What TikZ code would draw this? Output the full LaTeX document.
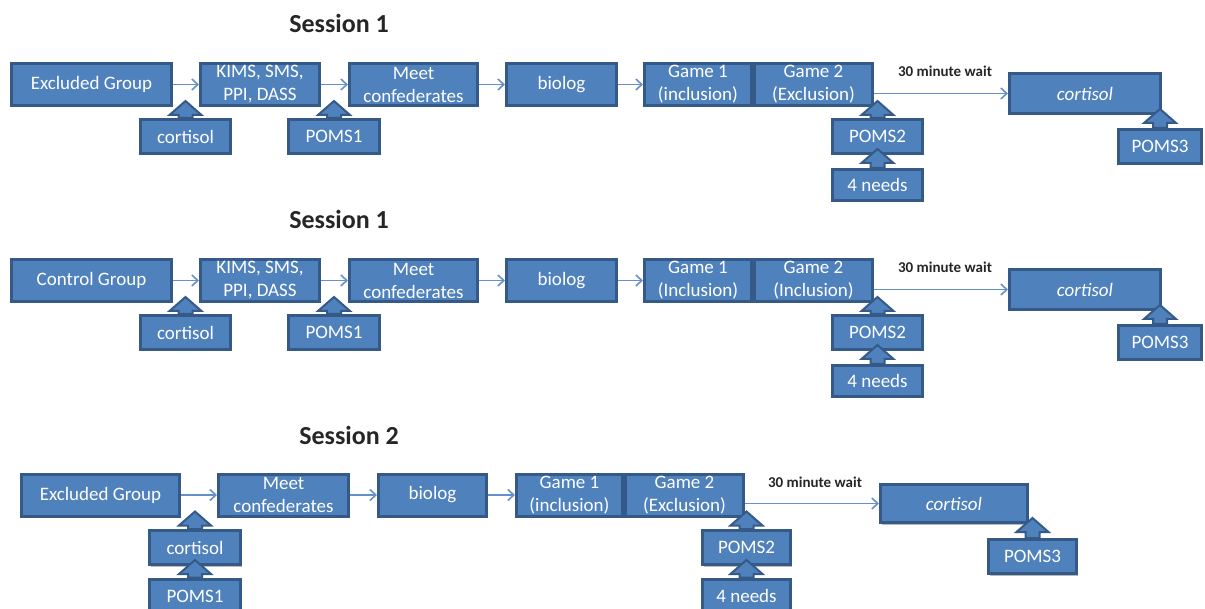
\documentclass[tikz,border=0pt]{standalone}
\usepackage{fontspec}
\setmainfont{Carlito}
\usetikzlibrary{arrows.meta,calc,shadows}

\definecolor{boxblue}{HTML}{4F81BD}
\definecolor{boxedge}{HTML}{355A88}
\definecolor{linkblue}{HTML}{6490CB}

\tikzset{
  stage/.style={draw=boxedge, line width=3pt, fill=boxblue, text=white,
    align=center, inner sep=0pt, minimum height=42pt,
    font=\fontsize{19}{23}\selectfont,
    drop shadow={shadow xshift=1.5pt, shadow yshift=-2pt, fill=black!45, opacity=.6}},
  measure/.style={stage, minimum height=34pt},
  link/.style={draw=linkblue, line width=1.6pt, -{Straight Barb[length=6pt,width=11pt]}},
  blockarr/.style={fill=boxblue, draw=boxedge, line width=2pt, line join=miter},
  session/.style={font=\fontsize{26}{30}\selectfont\bfseries, text=black!85},
  waitlbl/.style={font=\fontsize{15}{18}\selectfont\bfseries, text=black!85},
}

% fat up-arrow from a measure box to the step above it
\newcommand{\blockup}[2]{%
  \draw[blockarr] let \p1=(#1.north), \p2=(#2) in
    (\x1-7pt,\y1) -- (\x1-7pt,\y2-8pt) -- (\x1-16pt,\y2-8pt) -- (\x1,\y2+6pt)
    -- (\x1+16pt,\y2-8pt) -- (\x1+7pt,\y2-8pt) -- (\x1+7pt,\y1) -- cycle;}

\begin{document}
\begin{tikzpicture}[x=1pt,y=-1pt]
\useasboundingbox (0,0) rectangle (1205,609);

% session 1, both groups
\foreach \r/\dy/\grp/\gone/\gtwo in {1/0/Excluded Group/inclusion/Exclusion,
                                      2/196/Control Group/Inclusion/Inclusion}{
  \node[session] (ses\r) at (339,{23+\dy}) {Session 1};
  \node[stage, minimum width=160pt] (grp\r) at (91.5,{84.5+\dy}) {\grp};
  \node[stage, minimum width=119pt] (kims\r) at (260,{84.5+\dy}) {KIMS, SMS,\\PPI, DASS};
  \node[stage, minimum width=128pt] (meet\r) at (413.5,{84.5+\dy}) {Meet\\confederates};
  \node[stage, minimum width=110pt] (bio\r) at (561.5,{84.5+\dy}) {biolog};
  \node[stage, minimum width=107pt] (gone\r) at (698,{84.5+\dy}) {Game 1\\(\gone)};
  \node[stage, minimum width=118pt] (gtwo\r) at (813.5,{84.5+\dy}) {Game 2\\(\gtwo)};
  \node[stage, minimum width=151pt, minimum height=40pt] (cort\r) at (1085,{93.5+\dy}) {\itshape cortisol};
  \node[measure, minimum width=90pt] (cpre\r) at (185.5,{136.5+\dy}) {cortisol};
  \node[measure, minimum width=91pt] (pa\r) at (334,{136.5+\dy}) {POMS1};
  \node[measure, minimum width=90pt] (pb\r) at (877.5,{136.5+\dy}) {POMS2};
  \node[measure, minimum width=90pt, minimum height=31pt] (need\r) at (877.5,{185+\dy}) {4 needs};
  \node[measure, minimum width=83pt] (pc\r) at (1160,{146.5+\dy}) {POMS3};
  \node[waitlbl] (wait\r) at (945,{71.5+\dy}) {30 minute wait};

  \draw[link] (grp\r) -- (kims\r);
  \draw[link] (kims\r) -- (meet\r);
  \draw[link] (meet\r) -- (bio\r);
  \draw[link] (bio\r) -- (gone\r);
  \draw[link] (gtwo\r.east |- cort\r.west) -- (cort\r.west);

  \blockup{cpre\r}{kims\r.south}
  \blockup{pa\r}{meet\r.south}
  \blockup{pb\r}{gtwo\r.south}
  \blockup{need\r}{pb\r.south}
  \blockup{pc\r}{cort\r.south}
}

% session 2
\node[session] (ses3) at (349,435) {Session 2};
\node[stage, minimum width=158pt] (grp3) at (100.5,495) {Excluded Group};
\node[stage, minimum width=130pt] (meet3) at (283.5,495) {Meet\\confederates};
\node[stage, minimum width=108pt] (bio3) at (432.5,495) {biolog};
\node[stage, minimum width=106pt] (gone3) at (569.5,495) {Game 1\\(inclusion)};
\node[stage, minimum width=118pt] (gtwo3) at (684.5,495) {Game 2\\(Exclusion)};
\node[stage, minimum width=147pt, minimum height=38pt] (cort3) at (954,503.5) {\itshape cortisol};
\node[measure, minimum width=91pt] (cpre3) at (195,547.5) {cortisol};
\node[measure, minimum width=91pt] (pa3) at (195,596) {POMS1};
\node[measure, minimum width=88pt] (pb3) at (746.5,547.5) {POMS2};
\node[measure, minimum width=88pt] (need3) at (746.5,596) {4 needs};
\node[measure, minimum width=88pt] (pc3) at (1032.5,556.5) {POMS3};
\node[waitlbl] (wait3) at (815,482) {30 minute wait};

\draw[link] (grp3) -- (meet3);
\draw[link] (meet3) -- (bio3);
\draw[link] (bio3) -- (gone3);
\draw[link] (gtwo3.east |- cort3.west) -- (cort3.west);

\blockup{cpre3}{meet3.south}
\blockup{pa3}{cpre3.south}
\blockup{pb3}{gtwo3.south}
\blockup{need3}{pb3.south}
\blockup{pc3}{cort3.south}
\end{tikzpicture}
\end{document}
